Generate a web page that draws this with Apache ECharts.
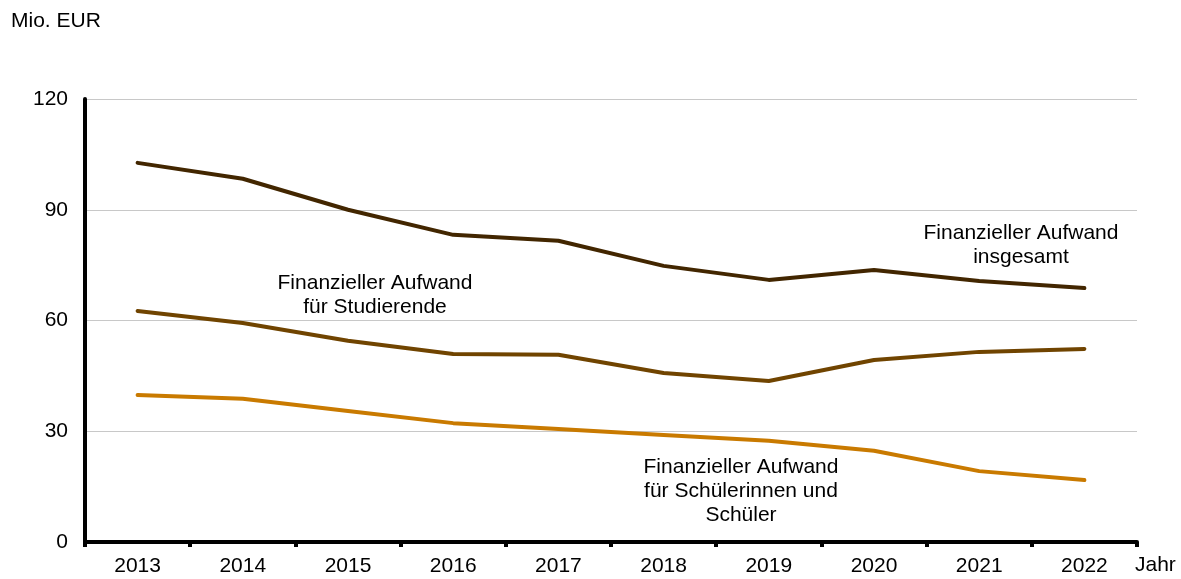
<!DOCTYPE html>
<html>
<head>
<meta charset="utf-8">
<script src="https://cdn.jsdelivr.net/npm/echarts@6/dist/echarts.min.js"></script>
<style>
  html, body { margin: 0; padding: 0; background: #fff; }
  #chart { width: 1181px; height: 579px; }
</style>
</head>
<body>
<div id="chart"></div>
<script>
const years = ['2013', '2014', '2015', '2016', '2017', '2018', '2019', '2020', '2021', '2022']
const insgesamt = [102.7, 98.4, 90.0, 83.2, 81.6, 74.8, 71.0, 73.7, 70.7, 68.8]
const studierende = [62.6, 59.3, 54.5, 50.9, 50.7, 45.8, 43.6, 49.3, 51.5, 52.3]
const schueler = [39.8, 38.8, 35.5, 32.2, 30.6, 29.0, 27.4, 24.7, 19.2, 16.8]

const font = 'Liberation Sans, Arial, sans-serif'
const txt = '21px ' + font

const line = (name, data, color) => ({
  name,
  type: 'line',
  data,
  symbol: 'none',
  lineStyle: { color, width: 4, cap: 'round', join: 'round' },
  itemStyle: { color },
  z: 3
})

const label = (x, y, text) => ({
  type: 'text', x, y,
  style: { text, fill: '#000', font: txt, align: 'center', verticalAlign: 'middle', lineHeight: 24 }
})

const chart = echarts.init(document.getElementById('chart'))
chart.setOption({
  animation: false,
  grid: { left: 85, right: 44, top: 99, bottom: 37 },
  xAxis: {
    type: 'category',
    data: years,
    boundaryGap: true,
    axisLine: { lineStyle: { color: '#000', width: 4 } },
    axisTick: { show: true, length: 5, lineStyle: { color: '#000', width: 4 } },
    axisLabel: { color: '#000', fontSize: 21, fontFamily: font, margin: 14 }
  },
  yAxis: {
    type: 'value',
    min: 0,
    max: 120,
    interval: 30,
    axisLine: { show: true, lineStyle: { color: '#000', width: 4 } },
    axisTick: { show: false },
    axisLabel: { color: '#000', fontSize: 21, fontFamily: font, margin: 17 },
    splitLine: { lineStyle: { color: '#c8c8c8', width: 1 } }
  },
  series: [
    line('Finanzieller Aufwand insgesamt', insgesamt, '#422600'),
    line('Finanzieller Aufwand für Studierende', studierende, '#704400'),
    line('Finanzieller Aufwand für Schülerinnen und Schüler', schueler, '#c97a00')
  ],
  graphic: [
    { type: 'text', x: 11, y: 21, style: { text: 'Mio. EUR', fill: '#000', font: txt, verticalAlign: 'middle' } },
    { type: 'text', x: 1135, y: 565, style: { text: 'Jahr', fill: '#000', font: txt, verticalAlign: 'middle' } },
    label(375, 295, 'Finanzieller Aufwand\nfür Studierende'),
    label(1021, 245, 'Finanzieller Aufwand\ninsgesamt'),
    label(741, 491, 'Finanzieller Aufwand\nfür Schülerinnen und\nSchüler')
  ]
})
</script>
</body>
</html>
